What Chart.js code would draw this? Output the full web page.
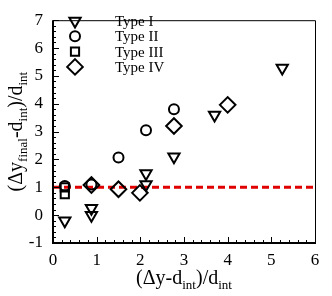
<!DOCTYPE html>
<html>
<head>
<meta charset="utf-8">
<script src="https://cdn.jsdelivr.net/npm/chart.js@4.4.1/dist/chart.umd.min.js"></script>
<style>
  html, body { margin: 0; padding: 0; background: #fff; }
  canvas { display: block; }
</style>
</head>
<body>
<canvas id="chart" width="332" height="296"></canvas>
<script>
// valores
var typeIX = [5.25, 3.7, 2.77, 2.13, 2.13, 0.88, 0.88, 0.27];
var typeIY = [5.28, 3.6, 2.1, 1.5, 1.1, 0.25, 0.0, -0.2];
var typeIIX = [0.27, 0.88, 1.5, 2.13, 2.77];
var typeIIY = [1.05, 1.1, 2.07, 3.05, 3.8];
var typeIIIX = [0.27, 0.27];
var typeIIIY = [1.0, 0.75];
var typeIVX = [0.88, 1.5, 1.99, 2.77, 4.0];
var typeIVY = [1.08, 0.93, 0.8, 3.2, 3.96];
var refX = [0, 6];
var refY = [1, 1];
var xTicks = [0, 1, 2, 3, 4, 5, 6];
var yTicks = [-1, 0, 1, 2, 3, 4, 5, 6, 7];
var legendLabels = ['Type I', 'Type II', 'Type III', 'Type IV'];

var serif = "'Liberation Serif', 'DejaVu Serif', serif";

function pts(xs, ys) {
    return xs.map(function (x, i) { return { x: x, y: ys[i] }; });
}

function markerSet(label, xs, ys, style, radius, rotation) {
    return {
        label: label,
        data: pts(xs, ys),
        showLine: false,
        pointStyle: style,
        pointRadius: radius,
        pointRotation: rotation || 0,
        pointBorderWidth: 2,
        pointBorderColor: '#000',
        pointBackgroundColor: 'rgba(0,0,0,0)',
        order: 1
    };
}

function drawParts(ctx, parts, cx, baseY) {
    var total = 0;
    parts.forEach(function (p) {
        ctx.font = p[1] + 'px ' + serif;
        total += ctx.measureText(p[0]).width;
    });
    var x = cx - total / 2;
    parts.forEach(function (p) {
        ctx.font = p[1] + 'px ' + serif;
        ctx.fillText(p[0], x, baseY + p[2]);
        x += ctx.measureText(p[0]).width;
    });
}

// moldura, ticks internos, titulos e legenda
var decor = {
    id: 'decor',
    afterDraw: function (chart) {
        var ctx = chart.ctx;
        var a = chart.chartArea;
        var xs = chart.scales.x, ys = chart.scales.y;
        ctx.save();
        ctx.strokeStyle = '#000';

        // ticks
        ctx.lineWidth = 1;
        ctx.beginPath();
        for (var v = 0; v <= 6.001; v += 0.2) {
            var px = Math.round(xs.getPixelForValue(v)) + 0.5;
            var major = Math.abs(v - Math.round(v)) < 0.01;
            ctx.moveTo(px, a.bottom);
            ctx.lineTo(px, a.bottom - (major ? 6 : 3));
        }
        for (var w = -1; w <= 7.001; w += 0.2) {
            var py = Math.round(ys.getPixelForValue(w)) + 0.5;
            var maj = Math.abs(w - Math.round(w)) < 0.01;
            ctx.moveTo(a.left, py);
            ctx.lineTo(a.left + (maj ? 6 : 3), py);
        }
        ctx.stroke();

        // moldura
        ctx.lineWidth = 1;
        ctx.beginPath();
        ctx.moveTo(a.left, a.top + 0.5);
        ctx.lineTo(a.right + 0.5, a.top + 0.5);
        ctx.lineTo(a.right + 0.5, a.bottom);
        ctx.stroke();
        ctx.lineWidth = 2;
        ctx.beginPath();
        ctx.moveTo(a.left, a.top);
        ctx.lineTo(a.left, a.bottom);
        ctx.lineTo(a.right + 1, a.bottom);
        ctx.stroke();

        // titulo x
        ctx.fillStyle = '#000';
        ctx.textBaseline = 'alphabetic';
        ctx.textAlign = 'left';
        var xt = [['(\u0394y-d', 20, 0], ['int', 13, 5], [')/d', 20, 0], ['int', 13, 5]];
        drawParts(ctx, xt, (a.left + a.right) / 2, 284);

        // titulo y (rotacionado)
        ctx.save();
        ctx.translate(22, (a.top + a.bottom) / 2);
        ctx.rotate(-Math.PI / 2);
        var yt = [['(\u0394y', 20, 0], ['final', 13, 5], ['-d', 20, 0], ['int', 13, 5], [')/d', 20, 0], ['int', 13, 5]];
        drawParts(ctx, yt, 0, 0);
        ctx.restore();

        // legenda
        var sets = chart.data.datasets.slice(0, 4);
        sets.forEach(function (ds, i) {
            var ly = 21 + i * 15.3;
            ctx.lineWidth = 2;
            ctx.strokeStyle = '#000';
            ctx.fillStyle = 'rgba(0,0,0,0)';
            Chart.helpers.drawPoint(ctx, {
                pointStyle: ds.pointStyle,
                radius: ds.pointRadius,
                rotation: ds.pointRotation,
                borderWidth: 2
            }, 75, ly);
            ctx.fillStyle = '#000';
            ctx.font = '15px ' + serif;
            ctx.textBaseline = 'middle';
            ctx.fillText(legendLabels[i], 115, ly + 1);
        });
        ctx.restore();
    }
};

var chart = new Chart(document.getElementById('chart').getContext('2d'), {
    type: 'scatter',
    data: {
        datasets: [
            markerSet('Type I', typeIX, typeIY, 'triangle', 6.5, 180),
            markerSet('Type II', typeIIX, typeIIY, 'circle', 5),
            markerSet('Type III', typeIIIX, typeIIIY, 'rect', 5.8),
            markerSet('Type IV', typeIVX, typeIVY, 'rectRot', 7.8),
            {
                label: 'ref',
                data: pts(refX, refY),
                showLine: true,
                borderColor: '#e00000',
                borderWidth: 3,
                borderDash: [7, 4],
                pointRadius: 0,
                fill: false,
                order: 2
            }
        ]
    },
    options: {
        responsive: false,
        animation: false,
        layout: { padding: { top: 9, right: 17, left: 0, bottom: 0 } },
        plugins: {
            legend: { display: false },
            tooltip: { enabled: false }
        },
        scales: {
            x: {
                type: 'linear',
                min: 0,
                max: 6,
                afterFit: function (s) { s.height = 53; },
                afterBuildTicks: function (s) { s.ticks = xTicks.map(function (v) { return { value: v }; }); },
                grid: { display: false, drawTicks: false },
                border: { display: false },
                ticks: {
                    padding: 7,
                    color: '#000',
                    maxRotation: 0,
                    font: { family: serif, size: 17 }
                }
            },
            y: {
                type: 'linear',
                min: -1,
                max: 7,
                afterFit: function (s) { s.width = 53; },
                afterBuildTicks: function (s) { s.ticks = yTicks.map(function (v) { return { value: v }; }); },
                grid: { display: false, drawTicks: false },
                border: { display: false },
                ticks: {
                    padding: 10,
                    color: '#000',
                    font: { family: serif, size: 17 }
                }
            }
        }
    },
    plugins: [decor]
});
</script>
</body>
</html>
